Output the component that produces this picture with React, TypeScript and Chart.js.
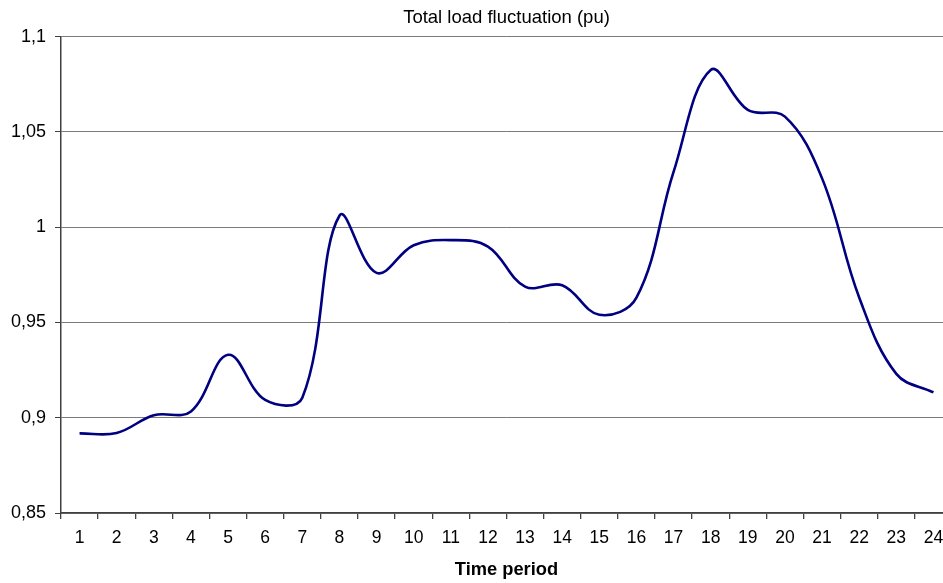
import React, { useEffect, useRef } from "react";
import { Chart, registerables } from "chart.js";

Chart.register(...registerables);

const periods: string[] = [
  "1", "2", "3", "4", "5", "6", "7", "8", "9", "10", "11", "12",
  "13", "14", "15", "16", "17", "18", "19", "20", "21", "22", "23", "24",
];

const loadValues: number[] = [
  0.8918, 0.892, 0.9013, 0.9033, 0.933, 0.9093, 0.9105, 1.006, 0.976, 0.9905, 0.9932, 0.9898,
  0.9688, 0.9695, 0.954, 0.963, 1.029, 1.0825, 1.0615, 1.058, 1.0256, 0.9631, 0.923, 0.9133,
];

const yMin = 0.85;
const yMax = 1.1;
const yStep = 0.05;

const chartTitle = "Total load fluctuation (pu)";
const xTitle = "Time period";

const FONT = '"Liberation Sans", Arial, sans-serif';

export default function App() {
  const ref = useRef<HTMLCanvasElement | null>(null);

  useEffect(() => {
    const canvas = ref.current;
    if (!canvas) return;
    const chart = new Chart(canvas, {
      type: "line",
      data: {
        labels: periods,
        datasets: [
          {
            data: loadValues,
            borderColor: "#000080",
            borderWidth: 2.6,
            pointRadius: 0,
            pointHoverRadius: 0,
            fill: false,
            tension: 0.38,
          },
        ],
      },
      options: {
        responsive: false,
        animation: false,
        layout: { padding: 0 },
        plugins: {
          legend: { display: false },
          tooltip: { enabled: false },
          title: {
            display: true,
            text: chartTitle,
            fullSize: false,
            color: "#000",
            font: { family: FONT, size: 18.5, weight: "normal" },
            padding: { top: 7, bottom: 7.4 },
          },
        },
        scales: {
          x: {
            type: "category",
            offset: true,
            grid: {
              display: true,
              offset: true,
              drawOnChartArea: false,
              drawTicks: true,
              tickLength: 6,
              color: "#404040",
              lineWidth: 1.3,
            },
            border: { display: true, color: "#404040", width: 1.5 },
            ticks: {
              color: "#000",
              font: { family: FONT, size: 17.5 },
              padding: 8.5,
              maxRotation: 0,
              autoSkip: false,
            },
            title: {
              display: true,
              text: xTitle,
              color: "#000",
              font: { family: FONT, size: 18.3, weight: "bold" },
              padding: { top: 0, bottom: 2 },
            },
            afterFit: (scale: any) => {
              scale.height = 70;
            },
          },
          y: {
            min: yMin,
            max: yMax,
            grid: {
              color: "#7a7a7a",
              lineWidth: 1,
              drawTicks: true,
              tickLength: 6,
              tickColor: "#404040",
            },
            border: { display: true, color: "#404040", width: 1.5 },
            ticks: {
              stepSize: yStep,
              color: "#000",
              font: { family: FONT, size: 18 },
              padding: 9,
              callback: (v: any) => String(Number(Number(v).toFixed(2))).replace(".", ","),
            },
            afterFit: (scale: any) => {
              scale.width = 61;
            },
          },
        },
      },
    });
    return () => chart.destroy();
  }, []);

  return (
    <div
      style={{
        position: "fixed",
        left: 0,
        top: 0,
        width: 943,
        height: 583,
        overflow: "hidden",
        background: "#fff",
      }}
    >
      <canvas ref={ref} width={952} height={583} style={{ width: 952, height: 583, display: "block" }} />
    </div>
  );
}
